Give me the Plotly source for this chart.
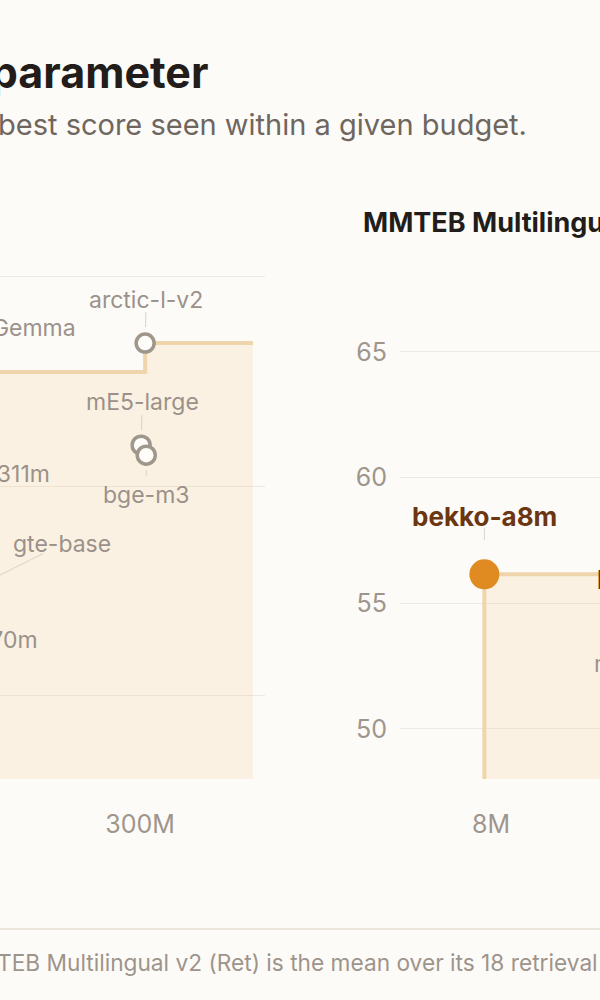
import numpy as np
import plotly.graph_objects as go

W, H = 600, 1000

# left panel: English retrieval, x = params, y = score
l_models = ["mxbai-xs-70m", "gte-base", "granite-311m", "EmbeddingGemma",
            "mE5-large", "arctic-l-v2", "bge-m3"]
l_params = [80e6, 95e6, 100.5e6, 106.5e6, 302e6, 309e6, 311e6]
l_score = [50.22, 52.16, 54.26, 57.73, 55.98, 58.42, 55.74]
l_end = 575e6
l_ticks = [1e8, 3e8, 1e9]
l_ticktext = ["100M", "300M", "1B"]

# right panel: MMTEB Multilingual v2 (Ret)
r_models = ["bekko-a8m", "mE5-small", "bekko-a22m"]
r_params = [7.7e6, 19.5e6, 22.5e6]
r_score = [56.15, 50.95, 53.73]
r_end = 600e6
r_ticks = [2e6, 8e6, 3e7]
r_ticktext = ["2M", "8M", "30M"]
y_ticks = [50, 55, 60, 65]

BG = "#fdfbf7"
GRID = "#eee8e0"
TICK = "#9e958d"
LABEL = "#9b918a"
BOLD = "#6b3610"
ORANGE = "#e08a22"
RING = "#a0978c"
STEP = "#efd5ab"
FILL = "rgba(240,200,140,0.19)"
LEADER = "#dbd2c8"
FONT = "Inter"

ydom = (1 - 779 / H, 1 - 250 / H)
panels = {
    "L": dict(dom=(0, 265 / W), xr=(8.1271, 8.7896), yr=(48, 60.644)),
    "R": dict(dom=(400 / W, 1), xr=(6.6756, 7.1756), yr=(48, 69.06)),
}

# label placement in px from the point: (dx, dy, xanchor, leader from/to distance)
label_pos = {
    "mxbai-xs-70m": (130, -46.5, "right", None),
    "gte-base": (122, -61, "center", (12, 115)),
    "granite-311m": (102, -43.5, "right", None),
    "EmbeddingGemma": (118, -43.5, "right", None),
    "mE5-large": (1, -43.5, "center", (15, 30)),
    "arctic-l-v2": (1, -43.5, "center", (16, 31)),
    "bge-m3": (0, 39.5, "center", (15, 21)),
    "bekko-a8m": (0, -57.5, "center", (34, 46)),
    "mE5-small": (-54, -40.5, "left", None),
    "bekko-a22m": (-76, -55.5, "left", None),
}


def to_px(p, x, y):
    d = panels[p]
    fx = (np.log10(x) - d["xr"][0]) / (d["xr"][1] - d["xr"][0])
    fy = (y - d["yr"][0]) / (d["yr"][1] - d["yr"][0])
    px = (d["dom"][0] + fx * (d["dom"][1] - d["dom"][0])) * W
    py = (1 - (ydom[0] + fy * (ydom[1] - ydom[0]))) * H
    return px, py


def frontier(xs, ys, x_end, floor=40):
    order = np.argsort(xs)
    fx, fy = [xs[order[0]]], [floor]
    best = -np.inf
    for i in order:
        if ys[i] > best:
            best = ys[i]
            fx.append(xs[i])
            fy.append(best)
    fx.append(x_end)
    fy.append(best)
    return fx, fy


fig = go.Figure()
annotations = []
shapes = []

for p, models, xs, ys, xend, xa, ya in [
    ("L", l_models, l_params, l_score, l_end, "x", "y"),
    ("R", r_models, r_params, r_score, r_end, "x2", "y2"),
]:
    fx, fy = frontier(xs, ys, xend)
    fig.add_trace(go.Scatter(x=fx, y=fy, mode="lines", line_shape="hv",
                             line=dict(color=STEP, width=4), fill="tozeroy",
                             fillcolor=FILL, hoverinfo="skip",
                             xaxis=xa, yaxis=ya, showlegend=False))
    ours = [m.startswith("bekko") for m in models]
    fig.add_trace(go.Scatter(
        x=xs, y=ys, mode="markers", xaxis=xa, yaxis=ya, showlegend=False,
        marker=dict(size=[30 if o else 18 for o in ours], opacity=1,
                    color=[ORANGE if o else "#fffdfa" for o in ours],
                    line=dict(width=[0 if o else 3.5 for o in ours], color=RING)),
        text=models, hoverinfo="text"))
    for m, x, y, o in zip(models, xs, ys, ours):
        dx, dy, anc, lead = label_pos[m]
        px, py = to_px(p, x, y)
        font = dict(family=FONT, size=26 if o else 23,
                    color=BOLD if o else LABEL, weight=700 if o else 400)
        annotations.append(dict(
            xref="paper", yref="paper", x=(px + dx) / W, y=1 - (py + dy) / H,
            text=m, font=font, showarrow=False, xanchor=anc, yanchor="middle"))
        if lead:
            ux, uy = np.array([dx, dy]) / np.hypot(dx, dy)
            shapes.append(dict(
                type="line", xref="paper", yref="paper",
                x0=(px + ux * lead[0]) / W, y0=1 - (py + uy * lead[0]) / H,
                x1=(px + ux * lead[1]) / W, y1=1 - (py + uy * lead[1]) / H,
                line=dict(color=LEADER, width=1)))

annotations += [
    dict(xref="paper", yref="paper", x=211 / W, y=1 - 72 / H,
         text="Best retrieval score per parameter", showarrow=False,
         xanchor="right", yanchor="middle",
         font=dict(family=FONT, size=43, color="#221d1a", weight=700)),
    dict(xref="paper", yref="paper", x=529 / W, y=1 - 124 / H,
         text="Each step marks the best score seen within a given budget.",
         showarrow=False, xanchor="right", yanchor="middle",
         font=dict(family=FONT, size=29, color="#6f665f")),
    dict(xref="paper", yref="paper", x=361 / W, y=1 - 223 / H,
         text="MMTEB Multilingual v2 (Ret)", showarrow=False,
         xanchor="left", yanchor="middle",
         font=dict(family=FONT, size=27, color="#221d1a", weight=700)),
    dict(xref="paper", yref="paper", x=-46 / W, y=1 - 962 / H,
         text="MMTEB Multilingual v2 (Ret) is the mean over its 18 retrieval tasks.",
         showarrow=False, xanchor="left", yanchor="middle",
         font=dict(family=FONT, size=22.7, color="#9d948c")),
]

shapes.append(dict(type="line", xref="paper", yref="paper", x0=0, x1=1,
                   y0=1 - 929 / H, y1=1 - 929 / H,
                   line=dict(color="#e4dcd2", width=1.5)))

axis_common = dict(showline=False, zeroline=False, ticks="", automargin=False,
                   tickfont=dict(family=FONT, size=25, color=TICK))

fig.update_layout(
    width=W, height=H, margin=dict(l=0, r=0, t=0, b=0, pad=0),
    paper_bgcolor=BG, plot_bgcolor=BG, showlegend=False,
    annotations=annotations, shapes=shapes,
    xaxis=dict(type="log", domain=panels["L"]["dom"], range=panels["L"]["xr"],
               tickvals=l_ticks, ticktext=l_ticktext, showgrid=False,
               ticklabelstandoff=28, **axis_common),
    yaxis=dict(domain=ydom, range=panels["L"]["yr"], tickvals=y_ticks,
               showticklabels=False, gridcolor=GRID, gridwidth=1, **axis_common),
    xaxis2=dict(type="log", domain=panels["R"]["dom"], range=panels["R"]["xr"],
                tickvals=r_ticks, ticktext=r_ticktext, showgrid=False,
                anchor="y2", ticklabelstandoff=28, **axis_common),
    yaxis2=dict(domain=ydom, range=panels["R"]["yr"], tickvals=y_ticks,
                anchor="x2", gridcolor=GRID, gridwidth=1,
                ticklabelstandoff=12, **axis_common),
)

fig.write_html("out.html", config={"displayModeBar": False},
               post_script="document.body.style.margin='0';"
                           "document.body.style.background='#fdfbf7';"
                           "document.body.style.overflow='hidden';")
